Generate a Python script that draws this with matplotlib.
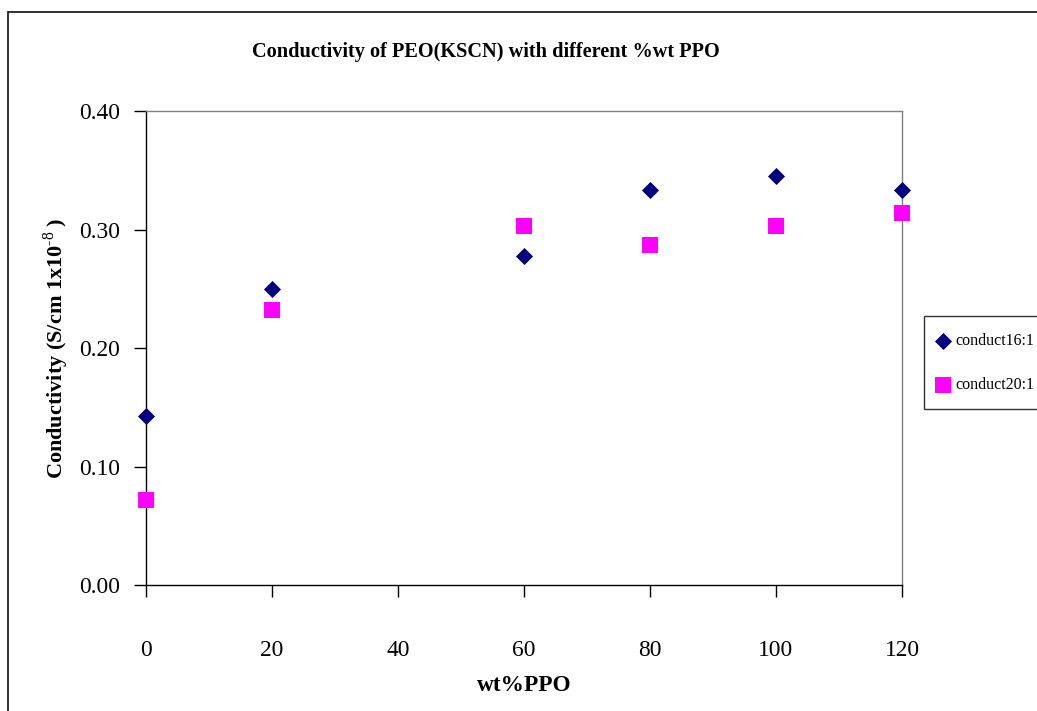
import matplotlib
matplotlib.use("Agg")
import matplotlib.pyplot as plt
from matplotlib.patches import Rectangle

# Conductivity readings versus PPO content
wt_ppo = [0, 20, 60, 80, 100, 120]
conduct_16_1 = [0.143, 0.250, 0.278, 0.333, 0.345, 0.333]
conduct_20_1 = [0.072, 0.232, 0.303, 0.287, 0.303, 0.314]
series_labels = ["conduct16:1", "conduct20:1"]
x_ticks = [0, 20, 40, 60, 80, 100, 120]
y_ticks = [0.0, 0.1, 0.2, 0.3, 0.4]

W, H = 1037, 711
plt.rcParams["font.family"] = ["Liberation Serif", "DejaVu Serif"]
plt.rcParams["mathtext.fontset"] = "custom"
plt.rcParams["mathtext.rm"] = "Liberation Serif"
plt.rcParams["mathtext.bf"] = "Liberation Serif:bold"
fig = plt.figure(figsize=(W / 100, H / 100), dpi=100)

# outer chart frame (runs off the right and bottom edges)
fig.patches.append(Rectangle((8 / W, -0.05), 1.1, 1 - 12 / H + 0.05,
                             transform=fig.transFigure, fill=False,
                             edgecolor="#222222", linewidth=1.3))

ax = fig.add_axes([146 / W, 1 - 585 / H, 756 / W, 474 / H])
ax.scatter(wt_ppo, conduct_16_1, marker="D", s=8.7 ** 2, color="#000080",
           linewidths=0, clip_on=False, zorder=5, label=series_labels[0])
ax.scatter(wt_ppo, conduct_20_1, marker="s", s=12.2 ** 2, color="#FF00FF",
           linewidths=0, clip_on=False, zorder=5, label=series_labels[1])

ax.set_xlim(0, 120)
ax.set_ylim(0, 0.40)
ax.set_xticks(x_ticks)
ax.set_yticks(y_ticks)
ax.set_yticklabels([f"{v:.2f}" for v in y_ticks])
ax.tick_params(axis="both", direction="out", length=8.5, width=1,
               color="black", labelsize=16.9, pad=10)
ax.tick_params(axis="x", pad=31)

for side in ("left", "bottom"):
    ax.spines[side].set_color("black")
    ax.spines[side].set_linewidth(1)
for side in ("top", "right"):
    ax.spines[side].set_color("#808080")
    ax.spines[side].set_linewidth(1)

ax.set_xlabel("wt%PPO", fontsize=16.8, fontweight="bold", labelpad=10)
ax.set_ylabel(r"Conductivity (S/cm 1x10$^{\mathbf{\text{-8}}}$ )", fontsize=16,
              fontweight="bold", labelpad=6)

fig.text(485.5 / W, 1 - 52 / H, "Conductivity of PEO(KSCN) with different %wt PPO",
         ha="center", va="center", fontsize=14.6, fontweight="bold")

leg = ax.legend(loc="upper left", bbox_to_anchor=(924 / W, 1 - 316 / H),
                bbox_transform=fig.transFigure, borderaxespad=0,
                fontsize=11.5, frameon=True, fancybox=False, borderpad=1.05,
                handlelength=0.3, handletextpad=0.6, labelspacing=1.75,
                scatterpoints=1)
leg.get_frame().set_edgecolor("black")
leg.get_frame().set_linewidth(1)

fig.savefig("out.png", dpi=100)
